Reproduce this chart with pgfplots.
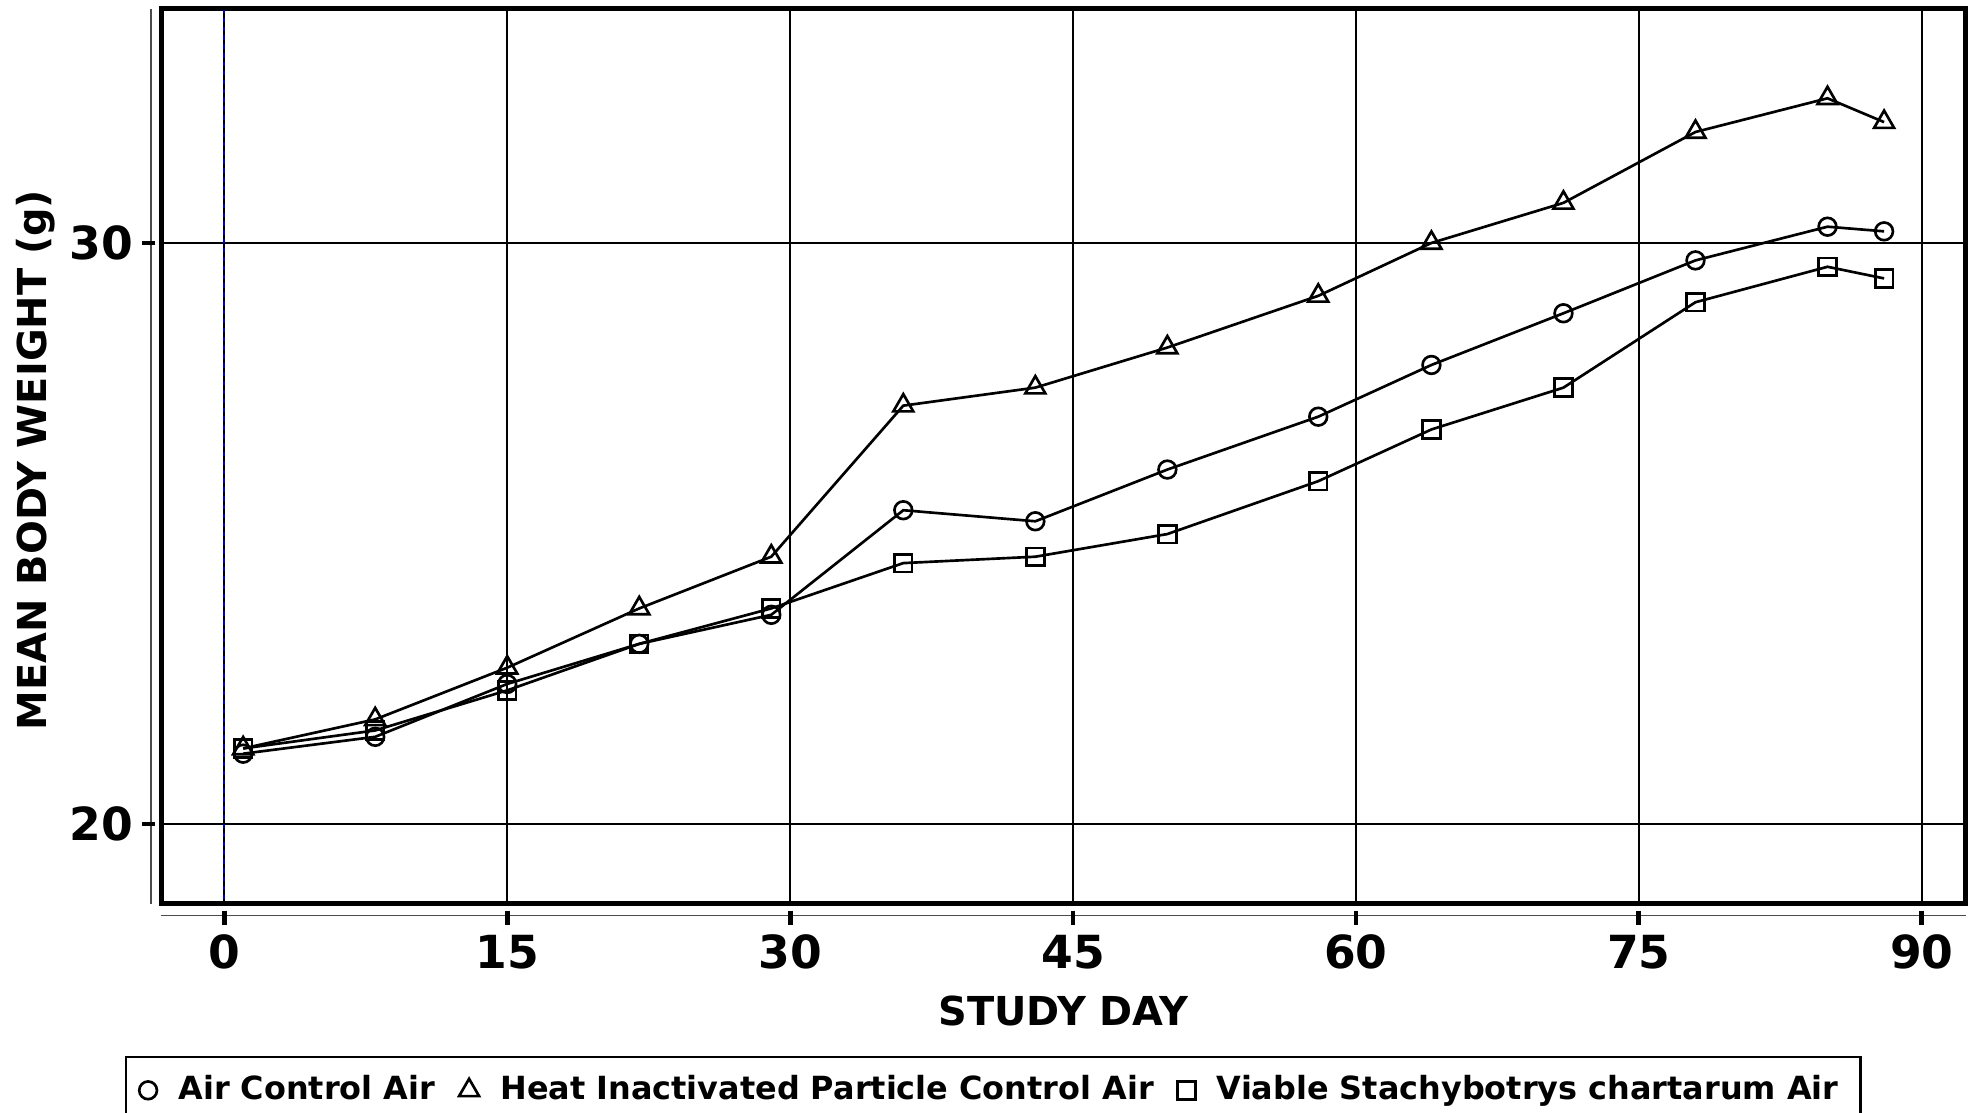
\documentclass[border=0pt]{standalone}
\usepackage{fontspec}
\setmainfont{DejaVu Sans}
\usepackage{pgfplots}
\pgfplotsset{compat=1.18}

\begin{document}
\begin{tikzpicture}
\useasboundingbox (0,0) rectangle (15.68cm,8.83cm);
\begin{axis}[
  at={(1.28cm,1.66cm)}, anchor=south west,
  scale only axis, width=14.32cm, height=7.10cm,
  xmin=-3.34, xmax=92.34, ymin=18.63, ymax=34.03,
  xtick={0,15,...,90}, ytick={20,30},
  /pgf/number format/assume math mode=true,
  ticklabel style={font=\fontsize{10.3}{12}\selectfont\bfseries},
  major tick length=0pt,
  xticklabel shift=1.26mm, yticklabel shift=1.0mm,
  xmajorgrids, ymajorgrids,
  major grid style={black, line width=0.45pt},
  axis line style={line width=1.13pt},
  clip=false,
  xlabel={STUDY DAY}, ylabel={MEAN BODY WEIGHT (g)},
  label style={font=\fontsize{9}{11}\selectfont\bfseries},
  xlabel style={at={([yshift=-8.5mm]axis description cs:0.5,0)}, anchor=center},
  ylabel style={at={([xshift=-10mm,yshift=-0.3mm]axis description cs:0,0.5)}, anchor=center},
  legend columns=3,
  legend style={at={([yshift=-12.1mm]axis description cs:0.461,0)}, anchor=north,
    draw=black, line width=0.5pt, font=\fontsize{7.2}{9}\selectfont\bfseries,
    inner xsep=3pt,
    /tikz/every odd column/.append style={column sep=1.0mm},
    /tikz/every even column/.append style={column sep=1.2mm}},
  legend image code/.code={\draw[#1] plot coordinates {(0cm,0cm)};},
]
% day-0 reference line
\draw[blue!75!black, line width=0.45pt] (axis cs:0,18.63) -- (axis cs:0,34.03);
\draw[black, line width=0.45pt, dash pattern=on 1pt off 1pt] (axis cs:0,18.63) -- (axis cs:0,34.03);

\addplot[black, line width=0.6pt, mark=o, mark size=2pt] coordinates {
 (1,21.21) (8,21.50) (15,22.41) (22,23.10) (29,23.60) (36,25.40) (43,25.21)
 (50,26.10) (58,27.01) (64,27.90) (71,28.79) (78,29.70) (85,30.28) (88,30.20)};
\addplot[black, line width=0.6pt, mark=triangle, mark size=2.6pt] coordinates {
 (1,21.30) (8,21.80) (15,22.69) (22,23.71) (29,24.60) (36,27.20) (43,27.51)
 (50,28.20) (58,29.09) (64,30.00) (71,30.69) (78,31.91) (85,32.49) (88,32.08)};
\addplot[black, line width=0.6pt, mark=square, mark size=2pt] coordinates {
 (1,21.30) (8,21.61) (15,22.30) (22,23.10) (29,23.71) (36,24.49) (43,24.60)
 (50,24.99) (58,25.90) (64,26.79) (71,27.51) (78,28.98) (85,29.59) (88,29.39)};
\legend{Air Control Air, Heat Inactivated Particle Control Air, Viable Stachybotrys chartarum Air}

% offset axis lines with outward ticks
\draw[black!70, line width=0.35pt] ([xshift=-0.8mm]rel axis cs:0,0) -- ([xshift=-0.8mm]rel axis cs:0,1);
\draw[black!70, line width=0.35pt] ([yshift=-0.95mm]rel axis cs:0,0) -- ([yshift=-0.95mm]rel axis cs:1,0);
\pgfplotsinvokeforeach{0,15,30,45,60,75,90}{
  \draw[black, line width=1.1pt] ([yshift=-0.56mm]axis cs:#1,18.63) -- ([yshift=-1.67mm]axis cs:#1,18.63);
}
\pgfplotsinvokeforeach{20,30}{
  \draw[black, line width=1.1pt] ([xshift=-0.5mm]axis cs:-3.34,#1) -- ([xshift=-1.5mm]axis cs:-3.34,#1);
}
\end{axis}
\end{tikzpicture}
\end{document}
